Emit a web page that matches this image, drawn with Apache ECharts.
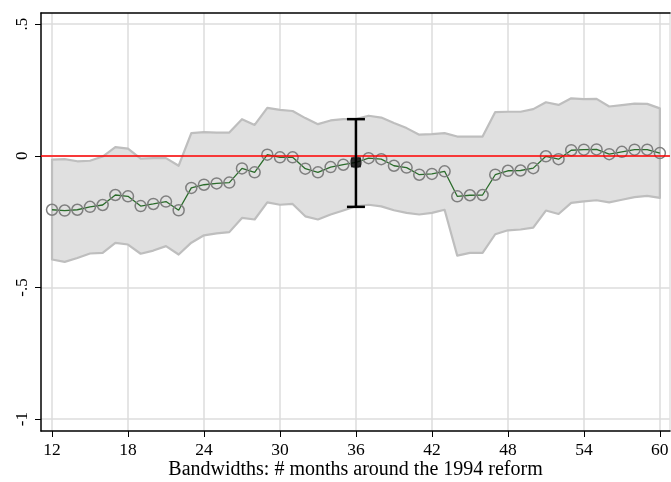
<!DOCTYPE html>
<html><head><meta charset="utf-8">
<script src="https://cdn.jsdelivr.net/npm/echarts@6/dist/echarts.min.js"></script>
<style>html,body{margin:0;padding:0;background:#fff}#c{width:671px;height:482px}</style>
</head><body><div id="c"></div>
<script>
var months = [];
for (var m = 12; m <= 60; m++) months.push(m);
var estimates = [-0.205,-0.208,-0.205,-0.194,-0.187,-0.149,-0.154,-0.191,-0.183,-0.174,-0.207,-0.122,
  -0.110,-0.105,-0.102,-0.048,-0.063,0.004,-0.006,-0.006,-0.049,-0.063,-0.043,-0.034,
  -0.025,-0.009,-0.013,-0.038,-0.045,-0.072,-0.069,-0.059,-0.154,-0.150,-0.149,-0.072,
  -0.057,-0.056,-0.047,-0.002,-0.013,0.021,0.023,0.024,0.006,0.015,0.023,0.023,0.010];
var upper = [-0.015,-0.013,-0.021,-0.019,-0.003,0.033,0.027,-0.011,-0.009,-0.009,-0.038,0.086,
  0.090,0.088,0.088,0.139,0.117,0.182,0.174,0.170,0.143,0.120,0.134,0.139,
  0.139,0.152,0.145,0.124,0.105,0.080,0.082,0.086,0.073,0.073,0.073,0.166,
  0.167,0.167,0.177,0.203,0.193,0.218,0.215,0.216,0.187,0.192,0.198,0.197,0.180];
var lower = [-0.394,-0.403,-0.388,-0.371,-0.369,-0.331,-0.337,-0.372,-0.360,-0.343,-0.375,-0.330,
  -0.302,-0.295,-0.290,-0.236,-0.242,-0.177,-0.186,-0.183,-0.230,-0.242,-0.223,-0.208,
  -0.192,-0.186,-0.192,-0.207,-0.217,-0.223,-0.217,-0.205,-0.379,-0.369,-0.369,-0.298,
  -0.283,-0.280,-0.273,-0.208,-0.221,-0.179,-0.173,-0.169,-0.177,-0.167,-0.157,-0.152,-0.160];
var mainBandwidth = 36;
var mainEstimate = -0.025;
var mainCI = [-0.194, 0.139];
var xTicks = [12,18,24,30,36,42,48,54,60];
var yTicks = [-1,-0.5,0,0.5];

var font = '"Liberation Serif", "DejaVu Serif", serif';
var bandData = months.map(function(m,i){return [m, lower[i], upper[i]];});
var lineData = months.map(function(m,i){return [m, estimates[i]];});

var chart = echarts.init(document.getElementById('c'), null, {renderer:'canvas'});
chart.setOption({
  animation:false,
  grid:{left:41, right:1, top:13, bottom:51, containLabel:false, outerBoundsMode:'none'},
  xAxis:[{
    type:'value', min:11.13, max:60.8,
    name:'Bandwidths: # months around the 1994 reform', nameLocation:'middle', nameGap:29,
    nameMoveOverlap:false,
    nameTextStyle:{fontFamily:font, fontSize:20, color:'#000'},
    axisLine:{show:true, onZero:false, lineStyle:{color:'#000', width:1.5}},
    axisTick:{show:true, length:6, customValues:xTicks, lineStyle:{color:'#000', width:1}},
    axisLabel:{customValues:xTicks, fontFamily:font, fontSize:17.5, color:'#000', margin:10},
    splitLine:{show:true, lineStyle:{color:'#dcdcdc', width:1.5}}
  },{
    type:'value', position:'top', min:11.13, max:60.8,
    axisLine:{show:true, onZero:false, lineStyle:{color:'#000', width:1.5}},
    axisTick:{show:false}, axisLabel:{show:false}, splitLine:{show:false}
  }],
  yAxis:[{
    type:'value', min:-1.045, max:0.542,
    axisLine:{show:true, onZero:false, lineStyle:{color:'#000', width:1.5}},
    axisTick:{show:true, length:6, customValues:yTicks, lineStyle:{color:'#000', width:1}},
    axisLabel:{customValues:yTicks, rotate:90, fontFamily:font, fontSize:17, color:'#000', margin:10,
      formatter:function(v){ if (v===0) return '0'; return String(v).replace('0.', '.'); }},
    splitLine:{show:true, lineStyle:{color:'#dcdcdc', width:1.5}}
  },{
    type:'value', position:'right', min:-1.045, max:0.542,
    axisLine:{show:true, onZero:false, lineStyle:{color:'#e2e2e2', width:1.5}},
    axisTick:{show:false}, axisLabel:{show:false}, splitLine:{show:false}
  }],
  series:[
    {
      type:'custom', data:bandData, z:1,
      renderItem:function(params, api){
        if (params.dataIndex !== 0) return;
        var pts = [];
        for (var i=0;i<bandData.length;i++) pts.push(api.coord([bandData[i][0], bandData[i][2]]));
        for (var j=bandData.length-1;j>=0;j--) pts.push(api.coord([bandData[j][0], bandData[j][1]]));
        return {type:'polygon', shape:{points:pts}, style:{fill:'#e0e0e0', stroke:'#bebebe', lineWidth:2.2, lineJoin:'round'}};
      },
      encode:{x:0, y:[1,2]}
    },
    {
      type:'line', data:lineData, z:3,
      symbol:'circle', symbolSize:11, showSymbol:true,
      lineStyle:{color:'#2a6b2a', width:1.3},
      itemStyle:{color:'rgba(0,0,0,0)', borderColor:'#7f7f7f', borderWidth:1.5},
      markLine:{silent:true, symbol:'none', label:{show:false},
        lineStyle:{color:'#ff0000', width:1.5, type:'solid'},
        data:[{yAxis:0}]}
    },
    {
      type:'custom', z:5, data:[[mainBandwidth, mainCI[0], mainCI[1]]],
      renderItem:function(params, api){
        var lo = api.coord([api.value(0), api.value(1)]);
        var hi = api.coord([api.value(0), api.value(2)]);
        var w = 9;
        return {type:'group', children:[
          {type:'line', shape:{x1:lo[0], y1:lo[1], x2:hi[0], y2:hi[1]}, style:{stroke:'#000', lineWidth:2.5}},
          {type:'line', shape:{x1:lo[0]-w, y1:lo[1], x2:lo[0]+w, y2:lo[1]}, style:{stroke:'#000', lineWidth:2.5}},
          {type:'line', shape:{x1:hi[0]-w, y1:hi[1], x2:hi[0]+w, y2:hi[1]}, style:{stroke:'#000', lineWidth:2.5}}
        ]};
      },
      encode:{x:0, y:[1,2]}
    },
    {
      type:'scatter', z:6, data:[[mainBandwidth, mainEstimate]],
      symbol:'rect', symbolSize:10, itemStyle:{color:'#000'}
    }
  ]
});
</script></body></html>
